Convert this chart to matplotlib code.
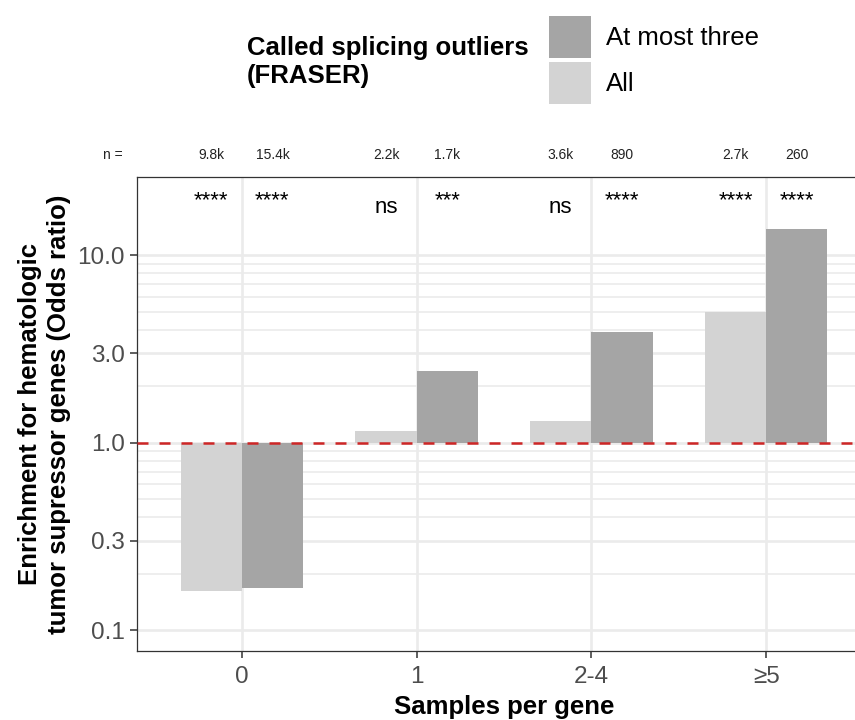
import matplotlib
matplotlib.use("Agg")
import matplotlib.pyplot as plt
from matplotlib.patches import Patch
from matplotlib.ticker import NullFormatter
from matplotlib.transforms import blended_transform_factory

plt.rcParams['font.family'] = ['Liberation Sans', 'DejaVu Sans']

# data
groups = ['0', '1', '2-4', '≥5']
odds_all = [0.162, 1.15, 1.31, 4.99]
odds_three = [0.168, 2.41, 3.90, 13.8]
n_all = ['9.8k', '2.2k', '3.6k', '2.7k']
n_three = ['15.4k', '1.7k', '890', '260']
sig_all = ['****', 'ns', 'ns', '****']
sig_three = ['****', '***', '****', '****']
y_major = [0.1, 0.3, 1, 3, 10]
y_major_labels = ['0.1', '0.3', '1.0', '3.0', '10.0']
y_minor = [0.2, 0.4, 0.5, 0.6, 0.7, 0.8, 0.9, 2, 4, 5, 6, 7, 8, 9]

col_all = '#D3D3D3'
col_three = '#A5A5A5'
grid_col = '#EBEBEB'
dark = '#333333'

W, H = 855, 720
fig = plt.figure(figsize=(W / 100, H / 100), dpi=100)
ax = fig.add_axes([137 / W, 1 - 651 / H, 734 / W, 474 / H])

bw = 0.35
idx = list(range(len(groups)))
xa = [i - bw / 2 for i in idx]
xt = [i + bw / 2 for i in idx]
ax.bar(xa, [v - 1 for v in odds_all], bottom=1, width=bw, color=col_all, zorder=2)
ax.bar(xt, [v - 1 for v in odds_three], bottom=1, width=bw, color=col_three, zorder=2)
ax.axhline(1, color='#CD2626', lw=1.8, linestyle=(0, (4.4, 4.4)), zorder=3)

ax.set_yscale('log')
ax.set_ylim(0.0773, 26.1)
ax.set_xlim(-0.6, 3.6)
ax.set_yticks(y_major)
ax.set_yticklabels(y_major_labels)
ax.set_yticks(y_minor, minor=True)
ax.yaxis.set_minor_formatter(NullFormatter())
ax.set_xticks(idx)
ax.set_xticklabels(groups)

ax.set_axisbelow(True)
ax.grid(True, which='major', axis='both', color=grid_col, lw=1.9)
ax.grid(True, which='minor', axis='y', color=grid_col, lw=1.2)

for s in ax.spines.values():
    s.set_color(dark)
    s.set_linewidth(0.9)
ax.tick_params(which='major', length=5, width=1.1, color=dark,
               labelsize=17.5, labelcolor='#4D4D4D', pad=4)
ax.tick_params(axis='x', which='major', pad=6)
ax.tick_params(which='minor', length=0)

ax.set_xlabel('Samples per gene', fontsize=18.5, fontweight='bold', labelpad=5)
ax.set_ylabel('Enrichment for hematologic\ntumor supressor genes (Odds ratio)',
              fontsize=18.5, fontweight='bold', linespacing=1.3, labelpad=4)

tr = blended_transform_factory(ax.transData, ax.transAxes)
ax.text(-0.738, 1.046, 'n =', transform=tr, ha='center', va='center',
        fontsize=10, color='#222222', clip_on=False)
for i in idx:
    ax.text(xa[i], 1.046, n_all[i], transform=tr, ha='center', va='center',
            fontsize=10, color='#222222', clip_on=False)
    ax.text(xt[i], 1.046, n_three[i], transform=tr, ha='center', va='center',
            fontsize=10, color='#222222', clip_on=False)
    for xpos, lab in ((xa[i], sig_all[i]), (xt[i], sig_three[i])):
        ypos = 0.925 if lab == 'ns' else 0.938
        ax.text(xpos, ypos, lab, transform=tr, ha='center', va='baseline',
                fontsize=16, color='black')

# legend: title on the left, keys stacked on the right
handles = [Patch(facecolor=col_three, edgecolor='none', label='At most three'),
           Patch(facecolor=col_all, edgecolor='none', label='All')]
fig.legend(handles=handles, loc='upper left', bbox_to_anchor=(549 / W, 1 - 16 / H),
           frameon=False, fontsize=18.5, handlelength=1.63, handleheight=2.14,
           labelspacing=0.16, handletextpad=0.6, borderpad=0, borderaxespad=0)
fig.text(247 / W, 1 - 62 / H, 'Called splicing outliers\n(FRASER)', ha='left', va='center',
         fontsize=18.5, fontweight='bold', linespacing=1.2)

fig.savefig('out.png', dpi=100)
